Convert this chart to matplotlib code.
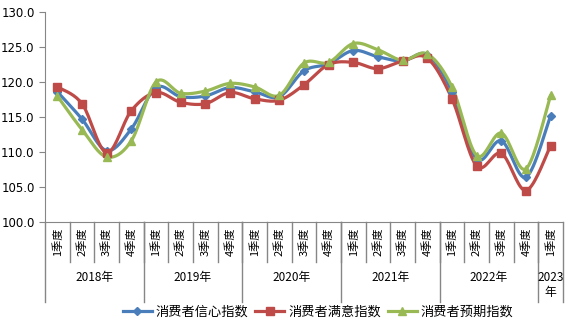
import matplotlib
matplotlib.use("Agg")
import matplotlib.pyplot as plt
import numpy as np

plt.rcParams["font.family"] = ["Noto Sans CJK SC", "DejaVu Sans"]

years = ["2018年", "2019年", "2020年", "2021年", "2022年", "2023\n年"]
quarters_per_year = [4, 4, 4, 4, 4, 1]
quarter_labels = ["1季度", "2季度", "3季度", "4季度"] * 5 + ["1季度"]

confidence = [118.6, 114.7, 110.2, 113.3, 119.2, 117.9, 118.0, 119.2, 118.6, 117.9, 121.6,
              122.6, 124.5, 123.6, 123.0, 123.9, 118.6, 109.0, 111.6, 106.4, 115.2]
satisfaction = [119.3, 116.9, 109.9, 115.9, 118.5, 117.1, 116.9, 118.5, 117.6, 117.4, 119.6,
                122.5, 122.8, 121.9, 123.0, 123.4, 117.6, 108.0, 109.8, 104.5, 110.9]
expectation = [118.0, 113.2, 109.3, 111.6, 120.0, 118.4, 118.7, 119.8, 119.3, 118.1, 122.7,
               122.8, 125.5, 124.6, 123.1, 124.0, 119.3, 109.5, 112.7, 107.6, 118.1]

series = [
    ("消费者信心指数", confidence, "#4A7EBB", "D", 4.5),
    ("消费者满意指数", satisfaction, "#BE4B48", "s", 5.5),
    ("消费者预期指数", expectation, "#98B954", "^", 6),
]


def smooth(x, y, n=20):
    # Catmull-Rom curve through the points, close to Excel's smoothed line
    x = np.asarray(x, float)
    y = np.asarray(y, float)
    px = np.concatenate([[x[0]], x, [x[-1]]])
    py = np.concatenate([[y[0]], y, [y[-1]]])
    xs, ys = [], []
    t = np.linspace(0, 1, n)
    for i in range(1, len(px) - 2):
        for p, out in ((px, xs), (py, ys)):
            p0, p1, p2, p3 = p[i - 1], p[i], p[i + 1], p[i + 2]
            m1 = (p2 - p0) / 2
            m2 = (p3 - p1) / 2
            h00 = 2 * t**3 - 3 * t**2 + 1
            h10 = t**3 - 2 * t**2 + t
            h01 = -2 * t**3 + 3 * t**2
            h11 = t**3 - t**2
            out.extend(h00 * p1 + h10 * m1 + h01 * p2 + h11 * m2)
    return np.array(xs), np.array(ys)


fig = plt.figure(figsize=(5.68, 3.24), dpi=100)
ax = fig.add_axes([45 / 568, 102 / 324, 518 / 568, 210 / 324])

x = np.arange(len(quarter_labels))
handles = []
for name, vals, color, marker, ms in series:
    sx, sy = smooth(x, vals)
    ax.plot(sx, sy, color=color, lw=2.3, solid_capstyle="round", zorder=2)
    ax.plot(x, vals, ls="none", marker=marker, color=color, ms=ms, zorder=3)
    h, = ax.plot([], [], color=color, lw=2.3, marker=marker, ms=ms)
    handles.append(h)

ax.set_xlim(-0.5, len(x) - 0.5)
ax.set_ylim(100, 130)
ax.set_yticks(np.arange(100, 130.1, 5))
ax.set_yticklabels([f"{v:.1f}" for v in np.arange(100, 130.1, 5)], fontsize=8.5, family="DejaVu Sans")
ax.set_xticks([])
for s in ["top", "right"]:
    ax.spines[s].set_visible(False)
for s in ["left", "bottom"]:
    ax.spines[s].set_color("#868686")
ax.tick_params(axis="y", color="#868686", length=4)

# multi-level category axis
tr = ax.get_xaxis_transform()
q_low = -40 / 210
y_low = -80 / 210
for i in range(1, len(x)):
    ax.plot([i - 0.5, i - 0.5], [0, q_low], color="#868686", lw=1, transform=tr, clip_on=False)
for i, lab in enumerate(quarter_labels):
    ax.text(i, q_low / 2, lab, rotation=90, ha="center", va="center", fontsize=8, transform=tr)

start = 0
bounds = [-0.5]
for yr, n in zip(years, quarters_per_year):
    ax.text(start + (n - 1) / 2, -55 / 210 if "\n" not in yr else -63 / 210, yr, ha="center", va="center",
            fontsize=8.5, transform=tr, linespacing=1.2)
    start += n
    bounds.append(start - 0.5)
for b in bounds:
    ax.plot([b, b], [0, y_low], color="#868686", lw=1, transform=tr, clip_on=False)

fig.legend(handles=handles, labels=[s[0] for s in series], loc="center", bbox_to_anchor=(0.56, 12 / 324),
           ncol=3, frameon=False, fontsize=9.5, handlelength=2.2, columnspacing=0.5, handletextpad=0.3)

fig.savefig("out.png", dpi=100)
